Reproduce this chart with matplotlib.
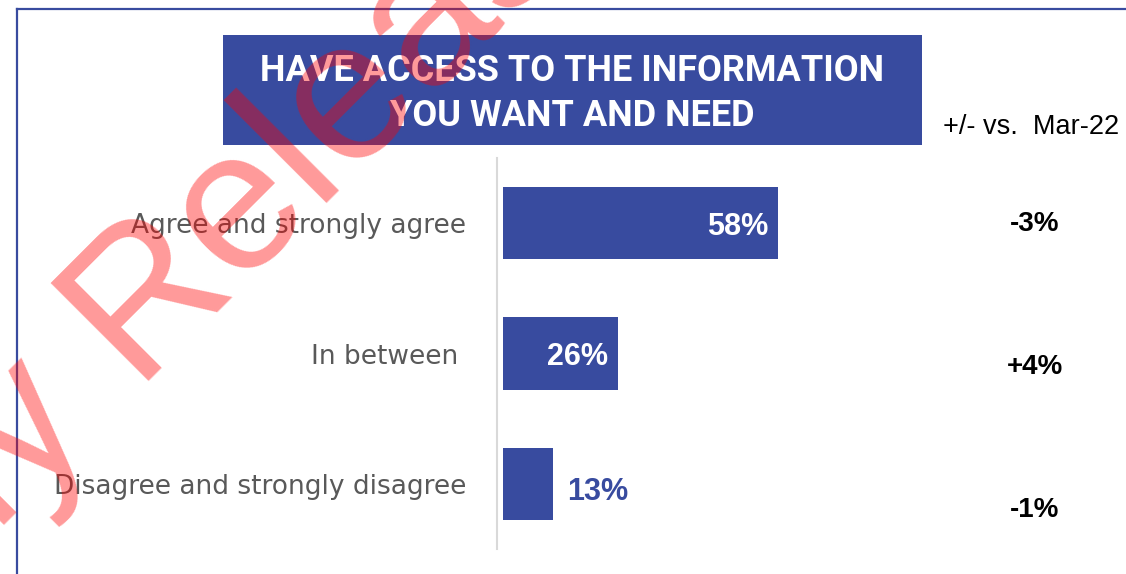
import matplotlib
matplotlib.use("Agg")
import numpy as np
import matplotlib.pyplot as plt
from matplotlib.patches import Rectangle
from matplotlib.lines import Line2D

# survey answers and change since the previous wave
categories = ["Agree and strongly agree", "In between ", "Disagree and strongly disagree"]
shares = [58, 26, 13]
deltas = ["-3%", "+4%", "-1%"]
title_lines = ["HAVE ACCESS TO THE INFORMATION", "YOU WANT AND NEED"]
delta_header = "+/- vs.  Mar-22"

W, H = 1126, 574
BLUE = "#384B9F"


def fx(px):
    return px / W


def fy(py):
    return 1 - py / H


fig = plt.figure(figsize=(W / 100, H / 100), dpi=100)
fig.patch.set_facecolor("white")

# outer frame (left and top edges only are visible)
fig.add_artist(Line2D([fx(17), fx(17)], [fy(9), 0], color=BLUE, lw=1.6))
fig.add_artist(Line2D([fx(17), 1], [fy(9), fy(9)], color=BLUE, lw=1.6))

# title banner
fig.add_artist(Rectangle((fx(223), fy(145)), fx(922) - fx(223), fy(35) - fy(145),
                         transform=fig.transFigure, facecolor=BLUE, edgecolor="none"))
for line, py in zip(title_lines, [67, 111.5]):
    fig.text(fx(572.5), fy(py), line, color="white", fontsize=26, fontweight="bold",
             family="Roboto", ha="center", va="center_baseline")

# bar chart
ax = fig.add_axes([fx(503), fy(549.25), 1 - fx(503), fy(157.75) - fy(549.25)])
ypos = list(range(len(categories)))
ax.barh(ypos, shares, height=0.552, color=BLUE)
ax.set_xlim(3, 3 + 623 / 5)
ax.set_ylim(2.5, -0.5)
for side in ["top", "right", "bottom"]:
    ax.spines[side].set_visible(False)
ax.spines["left"].set_position(("outward", 4.3))
ax.spines["left"].set_color("#D9D9D9")
ax.spines["left"].set_linewidth(1.5)
ax.set_xticks([])
ax.set_yticks(ypos)
ax.set_yticklabels(categories, fontsize=19, color="#595959", family="DejaVu Sans")
ax.tick_params(axis="y", length=0, pad=22)
for lab in ax.get_yticklabels():
    lab.set_verticalalignment("center_baseline")
ax.patch.set_alpha(0)

for y, v in zip(ypos, shares):
    if v >= 20:
        ax.annotate(f"{v}%", xy=(v, y), xytext=(-10, 0), textcoords="offset pixels",
                    ha="right", va="center_baseline", color="white", fontsize=22,
                    fontweight="bold", family="Liberation Sans")
    else:
        ax.annotate(f"{v}%", xy=(v, y), xytext=(14, -4), textcoords="offset pixels",
                    ha="left", va="center_baseline", color=BLUE, fontsize=22,
                    fontweight="bold", family="Liberation Sans")

# change column
dax = fig.add_axes([fx(900), fy(564.2), fx(1126) - fx(900), fy(149.5) - fy(564.2)])
dax.set_xlim(0, 1)
dax.set_ylim(2.4, -0.5)
dax.axis("off")
for y, d in enumerate(deltas):
    dax.text((1035 - 900) / 226, y, d, ha="center", va="center_baseline",
             fontsize=20, fontweight="bold", color="black", family="Liberation Sans")
fig.text(fx(1031), fy(124), delta_header, ha="center", va="center_baseline",
         fontsize=19.5, color="black", family="Liberation Sans")

# diagonal watermark, 45 degrees, baseline through the foot of the "R"
wm_px = 200
along = np.array([np.cos(np.pi / 4), -np.sin(np.pi / 4)])  # screen direction of the baseline
origin = np.array([132.4, 380.6])
gap = origin - 0.278 * wm_px * along
wm = dict(rotation=45, rotation_mode="anchor", va="baseline", fontsize=wm_px * 0.72,
          color=(1, 0, 0, 0.4), family="Liberation Sans", zorder=10)
fig.text(fx(origin[0]), fy(origin[1]), "Released", ha="left", **wm)
fig.text(fx(gap[0]), fy(gap[1]), "Proactively", ha="right", **wm)

fig.savefig("out.png", dpi=100)
